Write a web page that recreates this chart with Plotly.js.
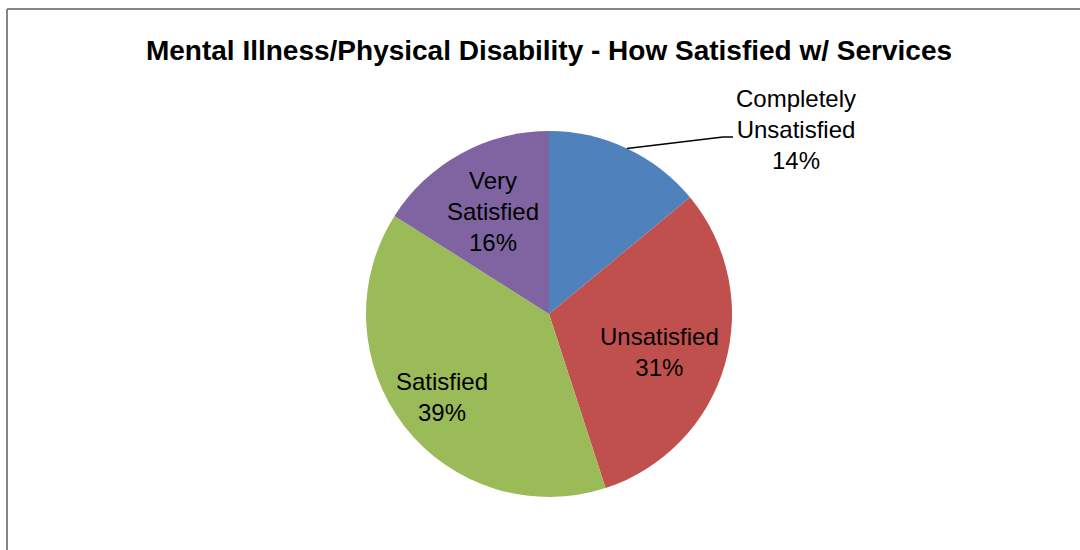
<!DOCTYPE html>
<html>
<head>
<meta charset="utf-8">
<script src="https://cdn.plot.ly/plotly-3.0.1.min.js"></script>
<style>html,body{margin:0;padding:0;background:#fff;}#chart{width:1080px;height:550px;}</style>
</head>
<body>
<div id="chart"></div>
<script>
var categories = ["Completely Unsatisfied", "Unsatisfied", "Satisfied", "Very Satisfied"];
var labelLines = ["Completely<br>Unsatisfied", "Unsatisfied", "Satisfied", "Very<br>Satisfied"];
var values = [14, 31, 39, 16];
var colors = ["#4F81BD", "#C0504D", "#9BBB59", "#8064A2"];

var W = 1080, H = 550;
var cx = 549, cy = 314, R = 183;
var labelRadius = [null, 0.63, 0.74, 0.64];
function px(x){ return x / W; }
function py(y){ return 1 - y / H; }

var total = values.reduce(function(a,b){return a+b;}, 0);
var annotations = [];
var shapes = [];
var cum = 0;
var font = {family: "Liberation Sans, Arial, sans-serif", size: 24, color: "#000"};
for (var i = 0; i < values.length; i++) {
  var mid = (cum + values[i] / 2) / total * 2 * Math.PI;
  cum += values[i];
  var dx = Math.sin(mid), dy = -Math.cos(mid);
  var pct = Math.round(values[i] / total * 100) + "%";
  if (labelRadius[i] === null) {
    var ex = cx + R * dx, ey = cy + R * dy;
    var kx = 723, ky = 137;
    shapes.push({type: "line", xref: "paper", yref: "paper", x0: px(ex), y0: py(ey), x1: px(kx), y1: py(ky), line: {color: "#000", width: 1.5}});
    shapes.push({type: "line", xref: "paper", yref: "paper", x0: px(kx), y0: py(ky), x1: px(kx + 10), y1: py(ky), line: {color: "#000", width: 1.5}});
    annotations.push({xref: "paper", yref: "paper", x: px(796), y: py(130), xanchor: "center", yanchor: "middle",
      text: labelLines[i] + "<br>" + pct, showarrow: false, font: font, align: "center"});
  } else {
    var lx = cx + R * labelRadius[i] * dx, ly = cy + R * labelRadius[i] * dy + (i === 1 ? 6 : 0);
    annotations.push({xref: "paper", yref: "paper", x: px(lx), y: py(ly), xanchor: "center", yanchor: "middle",
      text: labelLines[i] + "<br>" + pct, showarrow: false, font: font, align: "center"});
  }
}

// chart frame
shapes.push({type: "line", xref: "paper", yref: "paper", x0: px(7), y0: py(9), x1: px(7), y1: py(560), line: {color: "#868686", width: 2}});
shapes.push({type: "line", xref: "paper", yref: "paper", x0: px(7), y0: py(9), x1: px(1090), y1: py(9), line: {color: "#868686", width: 2}});

var trace = {
  type: "pie",
  labels: categories,
  values: values,
  sort: false,
  direction: "clockwise",
  rotation: 0,
  textinfo: "none",
  hoverinfo: "label+percent",
  marker: {colors: colors, line: {width: 0}},
  domain: {x: [px(cx - R), px(cx + R)], y: [py(cy + R), py(cy - R)]},
  showlegend: false
};

var layout = {
  width: W, height: H,
  margin: {l: 0, r: 0, t: 0, b: 0},
  paper_bgcolor: "#fff",
  title: {text: "<b>Mental Illness/Physical Disability - How Satisfied w/ Services</b>",
    x: px(549), xanchor: "center", y: py(50), yanchor: "middle", yref: "paper",
    font: {family: "Liberation Sans, Arial, sans-serif", size: 28, color: "#000"}},
  annotations: annotations,
  shapes: shapes,
  showlegend: false
};

Plotly.newPlot("chart", [trace], layout, {displayModeBar: false, staticPlot: true});
</script>
</body>
</html>
